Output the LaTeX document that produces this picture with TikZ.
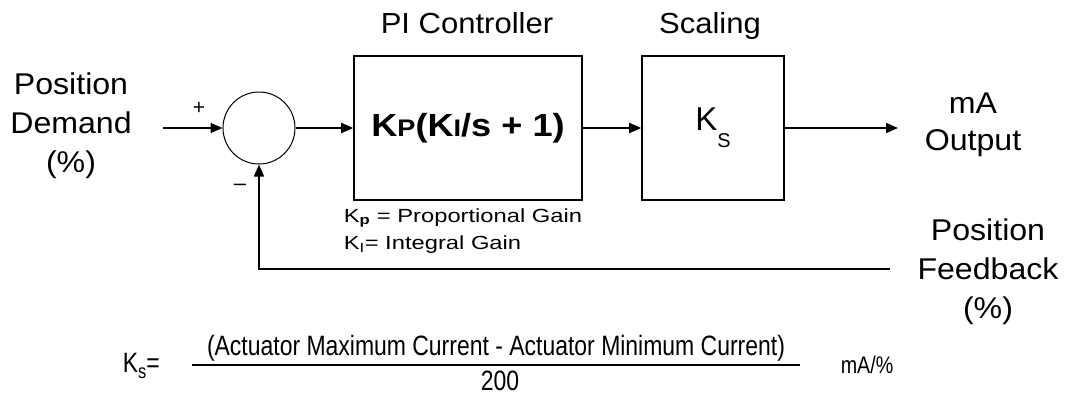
\documentclass[tikz,border=0pt]{standalone}
\usepackage{fontspec}
\setmainfont{Liberation Sans}
\newfontfamily\lblfont[FakeStretch=1.07]{Liberation Sans}
\newfontfamily\gainfont[FakeStretch=1.25]{Liberation Sans}
\newfontfamily\boxfont[FakeStretch=1.13]{Liberation Sans}
\newfontfamily\eqfont[FakeStretch=0.82]{Liberation Sans}
\usetikzlibrary{arrows.meta}
\begin{document}
\begin{tikzpicture}[x=1pt,y=-1pt,
  line width=1.6pt,
  arr/.style={-{Triangle[length=12pt,width=10pt]}},
  blk/.style={draw, rectangle, inner sep=0pt},
  sumc/.style={draw, circle, line width=1pt, minimum size=72pt, inner sep=0pt},
  lbl/.style={align=center, font=\lblfont\fontsize{30}{39}\selectfont, inner sep=0pt},
  ttl/.style={font=\lblfont\fontsize{29}{34}\selectfont, inner sep=0pt, anchor=base},
  gain/.style={font=\gainfont\fontsize{19}{24}\selectfont, inner sep=0pt, anchor=base west},
  eq/.style={font=\eqfont\fontsize{28}{32}\selectfont, inner sep=0pt, anchor=base}
]
\useasboundingbox (0,0) rectangle (1066,397);
% blocks
\node[sumc] (sum) at (259,128) {};
\node[blk, minimum width=228pt, minimum height=144pt] (pi) at (468,128)
  {\boxfont\fontsize{32}{36}\selectfont\bfseries K{\fontsize{24}{24}\selectfont P}(K{\fontsize{24}{24}\selectfont I}/s + 1)};
\node[blk, minimum width=142pt, minimum height=144pt] (sc) at (713,128)
  {\fontsize{33}{36}\selectfont K\raisebox{-17pt}{\fontsize{20}{24}\selectfont S}};
% titles
\node[ttl] (tpi) at (467,33) {PI Controller};
\node[ttl] (tsc) at (710,33) {Scaling};
% side labels
\node[lbl] (pd) at (71,126) {Position\\Demand\\(\%)};
\node[lbl, font=\lblfont\fontsize{30}{37}\selectfont] (mao) at (973,125) {mA\\Output};
\node[lbl] (pf) at (988,272) {Position\\Feedback\\(\%)};
% signs
\node[font=\fontsize{21}{22}\selectfont, inner sep=0pt] (plus) at (199,108) {+};
\node[font=\fontsize{22}{22}\selectfont, inner sep=0pt] (minus) at (240,187) {\textendash};
% connectors
\coordinate (in) at (163,128);
\coordinate (out) at (898,128);
\coordinate (fbend) at (890,269);
\coordinate (fcorner) at (259,269);
\draw[arr] (in) -- (sum.west);
\draw[arr] (sum.east) -- (pi.west);
\draw[arr] (pi.east) -- (sc.west);
\draw[arr] (sc.east) -- (out);
\draw[arr] (fbend) -- (fcorner) -- (sum.south);
% gain labels
\node[gain] (kp) at (343,222) {K\textsubscript{\textbf{p}} = Proportional Gain};
\node[gain] (ki) at (343,249) {K\textsubscript{I}= Integral Gain};
% formula
\node[eq, anchor=base west] (ks) at (122,372) {K\raisebox{-6pt}{\fontsize{20}{22}\selectfont s}=};
\node[eq] (num) at (496,355) {(Actuator Maximum Current - Actuator Minimum Current)};
\coordinate (fl) at (192,365);
\coordinate (fr) at (800,365);
\draw[line width=1.4pt] (fl) -- (fr);
\node[eq] (den) at (500,390) {200};
\node[eq, font=\eqfont\fontsize{24}{28}\selectfont, anchor=base west] (unit) at (840,373) {mA/\%};
\end{tikzpicture}
\end{document}
